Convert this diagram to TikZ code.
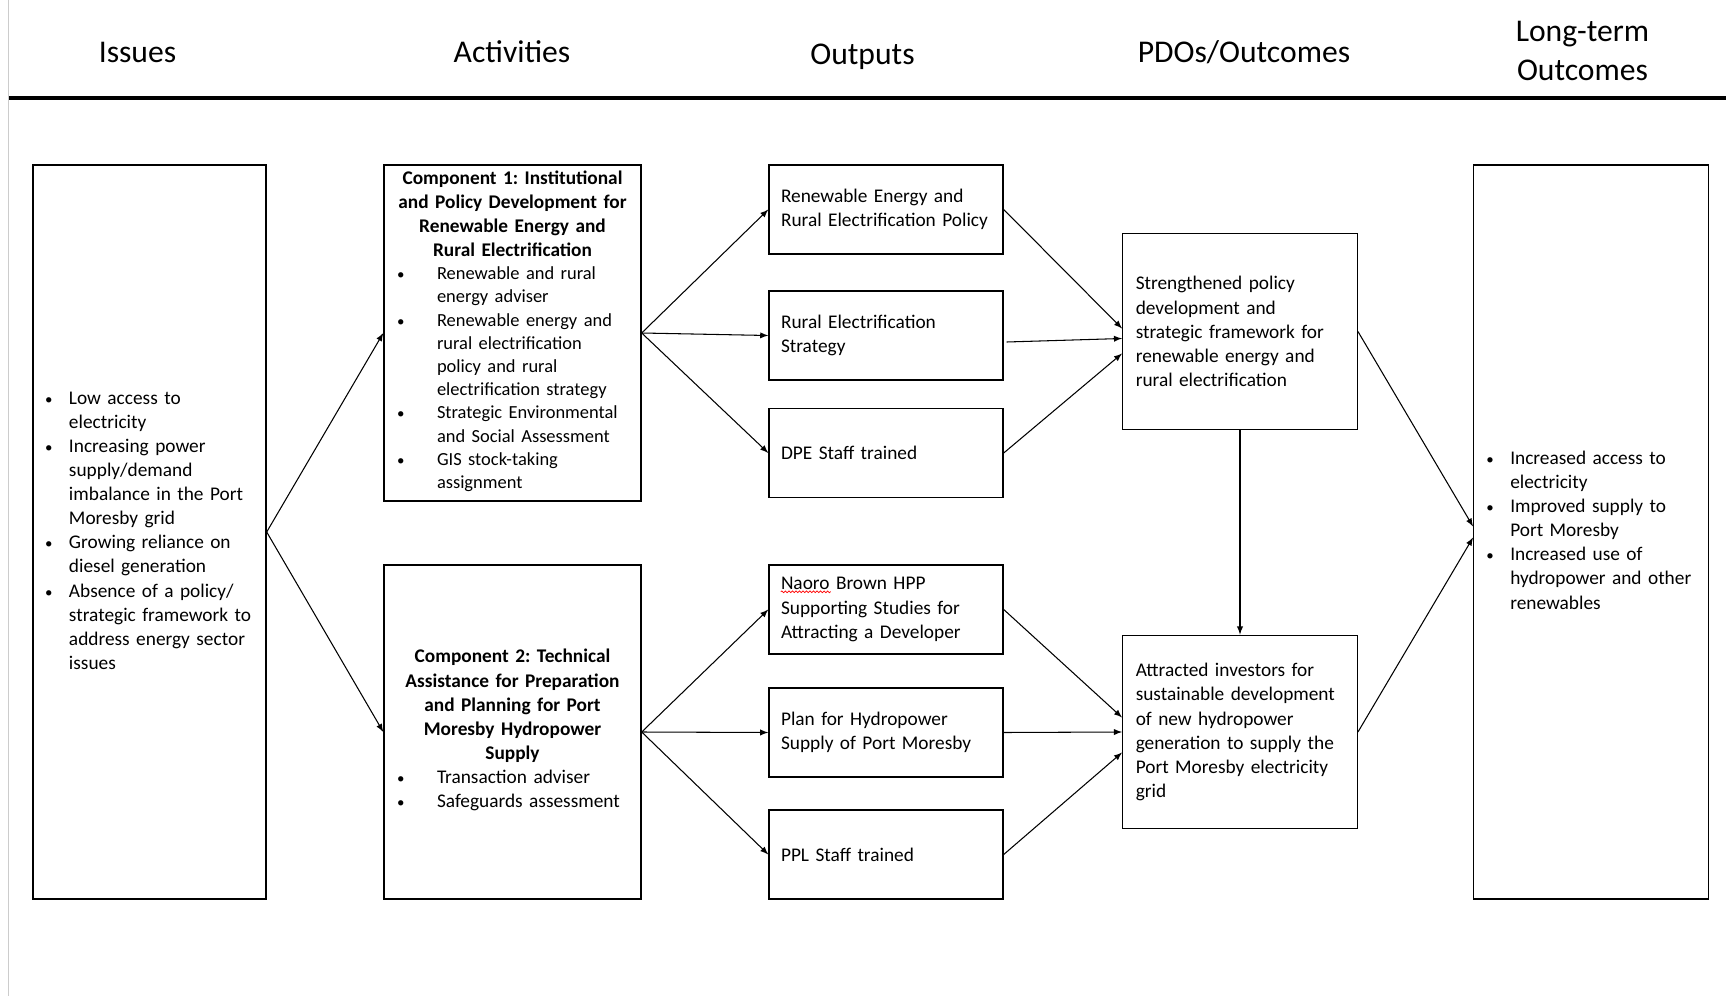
\documentclass[tikz,border=0pt]{standalone}
\usepackage{fontspec}
\setmainfont{Carlito}
\usetikzlibrary{decorations.pathmorphing}

\newcommand{\bodyfont}{\fontsize{11}{13.7}\selectfont\frenchspacing}
\newcommand{\headfont}{\fontsize{18}{22.5}\selectfont}
\newcommand{\bul}{\hspace*{-0.06cm}{\fontsize{8.5}{8.5}\selectfont\textbullet}}

\begin{document}
\begin{tikzpicture}[
    box/.style={draw, line width=0.8pt, rectangle, inner sep=0pt, font=\bodyfont},
    outbox/.style={box, minimum width=4.68cm, minimum height=1.78cm, text width=4.2cm, align=left},
    pdobox/.style={box, minimum width=4.69cm, text width=4.17cm, align=left},
    arr/.style={line width=0.6pt, -latex}]
    \useasboundingbox (0,0) rectangle (34.52,-19.92);
    \coordinate (MarginTop) at (0.17,0);
    \coordinate (MarginBot) at (0.17,-19.92);
    \coordinate (RuleMin)   at (0.18,-1.965);
    \coordinate (RuleMax)   at (34.52,-1.965);
    \draw [line width=1pt, black!20] (MarginTop) -- (MarginBot);% left margin
    \draw [line width=2.5pt] (RuleMin) -- (RuleMax);% heading rule

    % column headings
    \node [font=\headfont, anchor=base] (hIss) at (2.75,-1.26) {Issues};
    \node [font=\headfont, anchor=base] (hAct) at (10.24,-1.26) {Activities};
    \node [font=\headfont, anchor=base] (hOut) at (17.25,-1.30) {Outputs};
    \node [font=\headfont, anchor=base] (hPdo) at (24.88,-1.26) {PDOs/Outcomes};
    \node [font=\headfont, align=center, inner sep=0pt] (hLong) at (31.65,-1.02) {Long-term\\Outcomes};

    \node [box, minimum width=4.66cm, minimum height=14.68cm, text width=4.06cm] (iss) at (2.99,-10.64) {%
        \begin{tabular}[t]{@{}p{0.42cm}@{}l@{}}
        \bul & Low access to\\
             & electricity\\
        \bul & Increasing power\\
             & supply/demand\\
             & imbalance in the Port\\
             & Moresby grid\\
        \bul & Growing reliance on\\
             & diesel generation\\
        \bul & Absence of a policy/\\
             & strategic framework to\\
             & address energy sector\\
             & issues
        \end{tabular}};

    \node [box, minimum width=5.14cm, minimum height=6.72cm, text width=4.7cm] (comp1) at (10.25,-6.66) {%
        {\bfseries\centering Component 1: Institutional\\
        and Policy Development for\\
        Renewable Energy and\\
        Rural Electrification\par}
        {\fontsize{10.5}{13.2}\selectfont
        \begin{tabular}[t]{@{\hspace{0.1cm}}p{0.74cm}@{}l@{}}
        \bul & Renewable and rural\\
             & energy adviser\\
        \bul & Renewable energy and\\
             & rural electrification\\
             & policy and rural\\
             & electrification strategy\\
        \bul & Strategic Environmental\\
             & and Social Assessment\\
        \bul & GIS stock-taking\\
             & assignment
        \end{tabular}\par}};

    \node [box, minimum width=5.14cm, minimum height=6.68cm, text width=4.7cm] (comp2) at (10.25,-14.64) {%
        {\bfseries\centering Component 2: Technical\\
        Assistance for Preparation\\
        and Planning for Port\\
        Moresby Hydropower\\
        Supply\par}
        \begin{tabular}[t]{@{\hspace{0.1cm}}p{0.74cm}@{}l@{}}
        \bul & Transaction adviser\\
        \bul & Safeguards assessment
        \end{tabular}};

    % outputs
    \node [outbox] (out1) at (17.72,-4.19) {Renewable Energy and\\Rural Electrification Policy};
    \node [outbox] (out2) at (17.72,-6.71) {Rural Electrification\\Strategy};
    \node [outbox] (out3) at (17.72,-9.06) {DPE Staff trained};
    \node [outbox] (out4) at (17.72,-12.19) {Naoro Brown HPP\\Supporting Studies for\\Attracting a Developer};
    \node [outbox] (out5) at (17.72,-14.65) {Plan for Hydropower\\Supply of Port Moresby};
    \node [outbox] (out6) at (17.72,-17.09) {PPL Staff trained};
    \draw [red, line width=0.4pt, decorate, decoration={snake, amplitude=0.5pt, segment length=2pt}]
        ([xshift=0.25cm,yshift=-0.55cm]out4.north west) -- ++(1.0,0);% spelling mark

    \node [pdobox, minimum height=3.92cm] (pdo1) at (24.8,-6.63) {Strengthened policy\\development and\\strategic framework for\\renewable energy and\\rural electrification};
    \node [pdobox, minimum height=3.87cm] (pdo2) at (24.8,-14.64) {Attracted investors for\\sustainable development\\of new hydropower\\generation to supply the\\Port Moresby electricity\\grid};

    \node [box, minimum width=4.69cm, minimum height=14.68cm, text width=4.07cm] (lt) at (31.82,-10.64) {%
        \begin{tabular}[t]{@{}p{0.42cm}@{}l@{}}
        \bul & Increased access to\\
             & electricity\\
        \bul & Improved supply to\\
             & Port Moresby\\
        \bul & Increased use of\\
             & hydropower and other\\
             & renewables
        \end{tabular}};

    % connectors
    \draw [arr] (iss.east) -- (comp1.west);
    \draw [arr] (iss.east) -- (comp2.west);
    \foreach \o in {out1,out2,out3}{%
        \draw [arr] (comp1.east) -- (\o.west);
    }
    \foreach \o in {out4,out5,out6}{%
        \draw [arr] (comp2.east) -- (\o.west);
    }
    \draw [arr] (out1.east) -- ([yshift=0.06cm]pdo1.west);
    \draw [arr] ([xshift=0.06cm,yshift=-0.13cm]out2.east) -- ([yshift=-0.14cm]pdo1.west);
    \draw [arr] (out3.east) -- ([yshift=-0.44cm]pdo1.west);
    \draw [arr] (out4.east) -- ([yshift=0.29cm]pdo2.west);
    \draw [arr] (out5.east) -- (pdo2.west);
    \draw [arr] (out6.east) -- ([yshift=-0.41cm]pdo2.west);
    \draw [arr] (pdo1.south) -- (pdo2.north);
    \draw [arr] (pdo1.east) -- ([yshift=0.11cm]lt.west);
    \draw [arr] (pdo2.east) -- ([yshift=-0.11cm]lt.west);
\end{tikzpicture}
\end{document}
